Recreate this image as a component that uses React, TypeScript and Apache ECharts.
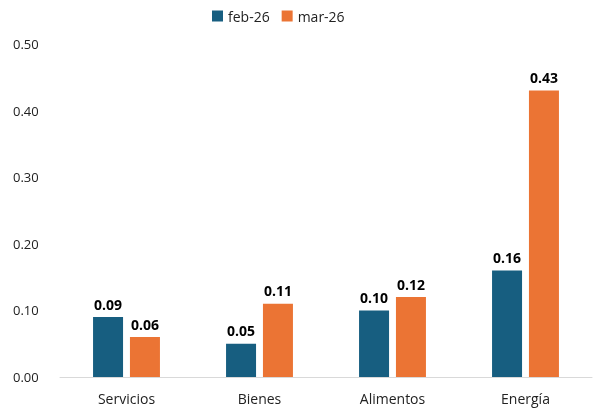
import React, { useEffect, useRef } from "react";
import * as echarts from "echarts";

const categories = ["Servicios", "Bienes", "Alimentos", "Energía"];
const feb26 = [0.09, 0.05, 0.1, 0.16];
const mar26 = [0.06, 0.11, 0.12, 0.43];
const seriesNames = ["feb-26", "mar-26"];

export default function App() {
  const ref = useRef<HTMLDivElement>(null);
  useEffect(() => {
    const chart = echarts.init(ref.current!, null, { renderer: "svg" });
    const font = "'Open Sans', 'Noto Sans', sans-serif";
    const label = {
      show: true,
      position: "top",
      distance: 6,
      fontFamily: font,
      fontWeight: "bold",
      fontSize: 14,
      color: "#000",
      formatter: (p: any) => p.value.toFixed(2),
    };
    chart.setOption({
      animation: false,
      textStyle: { fontFamily: font },
      legend: {
        top: 9,
        left: 212,
        padding: 0,
        itemWidth: 11,
        itemHeight: 11,
        itemGap: 12,
        icon: "rect",
        textStyle: { fontSize: 14, color: "#222", fontFamily: font },
        data: seriesNames,
      },
      grid: { left: 60, right: 3, top: 44, bottom: 31, containLabel: false },
      xAxis: {
        type: "category",
        data: categories,
        axisLine: { show: true, lineStyle: { color: "#d9d9d9", width: 1 } },
        axisTick: { show: false },
        axisLabel: { fontSize: 14, color: "#222", margin: 14, fontFamily: font },
      },
      yAxis: {
        type: "value",
        min: 0,
        max: 0.5,
        interval: 0.1,
        splitLine: { show: false },
        axisLine: { show: false },
        axisTick: { show: false },
        axisLabel: {
          fontSize: 13,
          color: "#222",
          margin: 47,
          align: "left",
          fontFamily: font,
          formatter: (v: number) => v.toFixed(2),
        },
      },
      series: [
        {
          name: seriesNames[0],
          type: "bar",
          data: feb26,
          barWidth: 30,
          barGap: "23%",
          itemStyle: { color: "#175e80" },
          label,
        },
        {
          name: seriesNames[1],
          type: "bar",
          data: mar26,
          barWidth: 30,
          itemStyle: { color: "#eb7434" },
          label,
        },
      ],
    });
    return () => chart.dispose();
  }, []);
  return (
    <div
      ref={ref}
      style={{ position: "fixed", left: 0, top: 0, width: 595, height: 408 }}
    />
  );
}
